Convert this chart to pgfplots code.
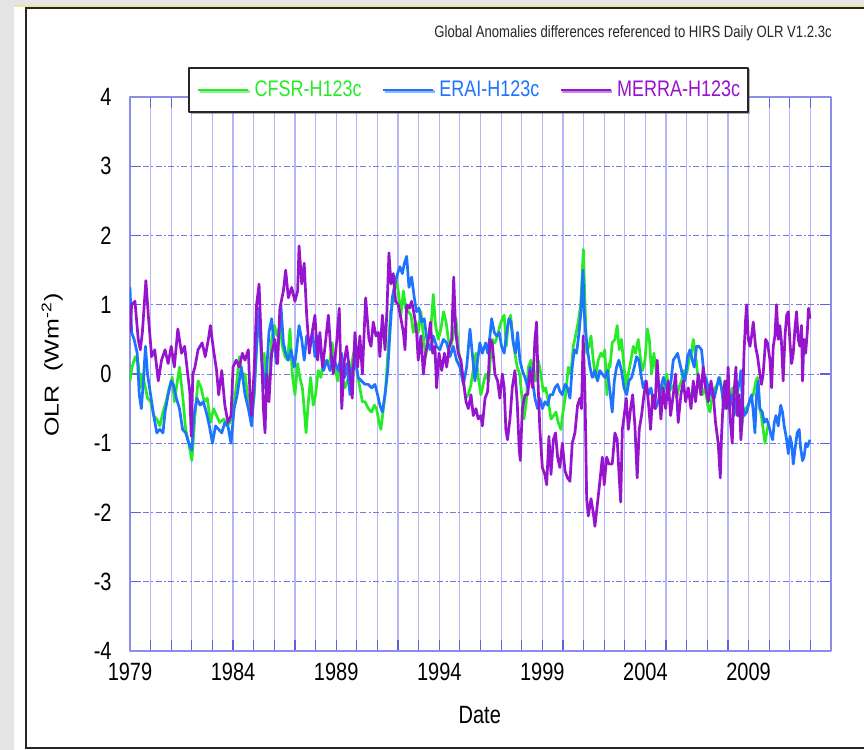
\documentclass[border=0pt]{standalone}
\usepackage{fontspec}
\setmainfont{Liberation Sans}
\usepackage{graphicx}
\usepackage{pgfplots}
\pgfplotsset{compat=1.18}
\usetikzlibrary{shadows}
\definecolor{cfsr}{RGB}{40,235,40}
\definecolor{erai}{RGB}{30,115,255}
\definecolor{merra}{RGB}{150,20,205}
\definecolor{gridc}{RGB}{182,182,246}
\definecolor{axc}{RGB}{140,140,235}
\definecolor{tickc}{RGB}{95,95,225}
\definecolor{ygrid}{RGB}{120,120,230}
\definecolor{bggray}{RGB}{229,229,229}
\definecolor{yel}{RGB}{235,230,160}
\newcommand{\vs}[1]{\scalebox{1}[1.25]{#1}}

\begin{document}
\begin{tikzpicture}
\fill[bggray] (0pt,0pt) rectangle (432pt,375pt);
\fill[white] (7pt,0pt) rectangle (432pt,372pt);
\draw[yel, line width=0.6pt] (7pt,372pt) -- (432pt,372pt);
\draw[black!85, line width=1pt] (432pt,371pt) -- (13pt,371pt) -- (13pt,1pt) -- (432pt,1pt);
\node[anchor=west, inner sep=0pt, font=\fontsize{6.55}{7}\selectfont, black!85] at (217pt,358.5pt) {\vs{Global Anomalies differences referenced to HIRS Daily OLR V1.2.3c}};
\begin{axis}[
  at={(65pt,49.5pt)}, anchor=south west, scale only axis,
  width=350.5pt, height=277pt,
  xmin=1979, xmax=2013, ymin=-4, ymax=4,
  xtick={1979,1984,1989,1994,1999,2004,2009},
  xticklabels={\vs{1979},\vs{1984},\vs{1989},\vs{1994},\vs{1999},\vs{2004},\vs{2009}},
  minor xtick={1980,1981,...,2012},
  ytick={-4,-3,...,4},
  yticklabels={\vs{-4},\vs{-3},\vs{-2},\vs{-1},\vs{0},\vs{1},\vs{2},\vs{3},\vs{4}},
  xmajorgrids, xminorgrids, ymajorgrids,
  x grid style={gridc, line width=0.6pt},
  y grid style={ygrid, line width=0.5pt, dash pattern=on 3pt off 1.2pt on 1pt off 1.2pt},
  major tick length=5.5pt, minor tick length=5.5pt,
  tick style={tickc, line width=0.6pt},
  axis line style={axc, line width=0.8pt},
  tick label style={font=\fontsize{10}{12}\selectfont, black},
  xticklabel style={anchor=center, yshift=-10.5pt},
  yticklabel style={anchor=east, inner sep=0pt, xshift=-9pt},
  label style={font=\fontsize{10}{12}\selectfont, black},
  xlabel={\vs{Date}},
  xlabel style={at={(axis description cs:0.499,-0.1155)}, anchor=center},
  ylabel={\scalebox{1.25}[1]{OLR\ \ (Wm\textsuperscript{-2})}},
  ylabel style={at={(axis description cs:-0.111,0.516)}, anchor=center},
  legend columns=3,
  legend image code/.code={\draw[#1] (0pt,0pt) -- (25pt,0pt);},
  legend style={at={(0.483,1.0126)}, anchor=center, draw=black!85, line width=1pt,
    fill=white, inner xsep=4pt, inner ysep=6.5pt,
    drop shadow={shadow xshift=0.8pt, shadow yshift=-0.8pt, fill=black!60},
    font=\fontsize{9}{10}\selectfont, nodes={inner sep=0pt},
    /tikz/every even column/.append style={column sep=10pt},
    /tikz/every odd column/.append style={column sep=2.5pt}},
  line join=round,
]
\addplot[cfsr, line width=1.35pt] coordinates {
(1979.00,-0.10) (1979.10,0.10) (1979.25,0.25) (1979.40,0.15) (1979.50,-0.20) (1979.60,0.00)
(1979.75,-0.20) (1979.85,-0.35) (1980.00,-0.40) (1980.15,-0.60) (1980.30,-0.65) (1980.45,-0.75)
(1980.60,-0.55) (1980.75,-0.40) (1980.90,-0.20) (1981.05,-0.05) (1981.15,-0.40) (1981.30,-0.10)
(1981.40,0.10) (1981.55,-0.30) (1981.70,-0.80) (1981.85,-1.00) (1982.00,-1.25) (1982.15,-0.60)
(1982.30,-0.10) (1982.45,-0.20) (1982.60,-0.40) (1982.75,-0.35) (1982.90,-0.70) (1983.05,-0.50)
(1983.20,-0.60) (1983.35,-0.70) (1983.55,-0.65) (1983.70,-0.75) (1983.85,-0.70) (1984.00,-0.50)
(1984.15,-0.20) (1984.30,0.25) (1984.45,0.00) (1984.58,0.00) (1984.74,-0.40) (1984.87,-0.70)
(1985.03,-0.30) (1985.14,0.40) (1985.26,0.90) (1985.38,0.20) (1985.51,0.30) (1985.63,-0.30)
(1985.74,-0.15) (1985.87,0.50) (1986.00,0.70) (1986.13,0.55) (1986.27,0.70) (1986.39,0.40)
(1986.52,0.25) (1986.65,0.20) (1986.76,0.65) (1986.87,0.00) (1987.00,-0.30) (1987.13,0.15)
(1987.24,-0.05) (1987.36,-0.20) (1987.45,-0.50) (1987.54,-0.85) (1987.65,-0.40) (1987.76,-0.05)
(1987.89,-0.45) (1988.00,-0.30) (1988.13,0.05) (1988.26,-0.05) (1988.38,0.20) (1988.54,0.15)
(1988.70,0.20) (1988.81,0.45) (1988.94,0.10) (1989.07,-0.10) (1989.18,0.15) (1989.31,-0.10)
(1989.43,-0.20) (1989.59,-0.05) (1989.75,0.15) (1989.88,0.35) (1990.02,0.00) (1990.15,-0.20)
(1990.27,-0.40) (1990.40,-0.40) (1990.56,-0.50) (1990.72,-0.55) (1990.85,-0.45) (1990.96,-0.50)
(1991.08,-0.70) (1991.17,-0.80) (1991.29,-0.50) (1991.40,-0.20) (1991.53,0.40) (1991.64,0.90)
(1991.77,1.05) (1991.88,1.40) (1992.01,1.20) (1992.14,0.85) (1992.26,1.20) (1992.37,0.95)
(1992.50,0.90) (1992.63,0.85) (1992.74,0.60) (1992.87,0.75) (1992.98,0.60) (1993.11,0.90)
(1993.23,0.55) (1993.34,0.25) (1993.47,0.50) (1993.58,0.60) (1993.71,1.15) (1993.82,0.70)
(1993.95,0.50) (1994.08,0.65) (1994.21,0.90) (1994.33,0.75) (1994.44,0.50) (1994.57,0.40)
(1994.70,0.60) (1994.81,0.80) (1994.92,0.40) (1995.05,0.10) (1995.17,-0.10) (1995.28,-0.35)
(1995.41,-0.30) (1995.54,-0.15) (1995.67,0.10) (1995.78,0.30) (1995.89,-0.05) (1996.02,-0.30)
(1996.13,-0.15) (1996.25,0.00) (1996.40,-0.10) (1996.50,0.30) (1996.57,0.50) (1996.70,0.45)
(1996.83,0.55) (1996.94,0.70) (1997.06,0.80) (1997.15,0.85) (1997.25,0.40) (1997.35,0.75)
(1997.46,0.85) (1997.57,0.50) (1997.67,0.30) (1997.78,0.10) (1997.90,0.00) (1998.00,-0.30)
(1998.11,-0.65) (1998.22,-0.40) (1998.32,0.10) (1998.45,0.20) (1998.56,0.00) (1998.67,-0.10)
(1998.80,0.20) (1998.93,0.00) (1999.04,-0.25) (1999.16,-0.20) (1999.29,-0.40) (1999.42,-0.65)
(1999.55,-0.60) (1999.66,-0.55) (1999.77,-0.70) (1999.90,-0.80) (2000.00,-0.55) (2000.13,-0.30)
(2000.26,0.10) (2000.39,0.00) (2000.50,0.40) (2000.61,0.55) (2000.74,0.75) (2000.86,1.00)
(2000.94,1.50) (2000.99,1.80) (2001.07,1.00) (2001.15,0.30) (2001.26,0.40) (2001.36,0.55)
(2001.47,0.20) (2001.58,-0.05) (2001.71,0.20) (2001.84,0.30) (2001.95,0.25) (2002.03,0.35)
(2002.13,-0.30) (2002.23,0.15) (2002.28,0.10) (2002.39,0.45) (2002.52,0.50) (2002.63,0.70)
(2002.73,0.35) (2002.84,0.50) (2002.96,0.10) (2003.07,-0.20) (2003.17,0.00) (2003.30,0.20)
(2003.41,0.40) (2003.52,0.30) (2003.65,0.50) (2003.77,0.20) (2003.86,0.05) (2003.98,0.20)
(2004.09,0.65) (2004.19,0.50) (2004.30,0.00) (2004.41,0.30) (2004.54,0.00) (2004.65,-0.15)
(2004.78,-0.40) (2004.91,-0.10) (2005.03,0.00) (2005.14,-0.25) (2005.27,-0.20) (2005.40,-0.15)
(2005.51,-0.35) (2005.62,-0.20) (2005.75,-0.10) (2005.88,0.05) (2006.00,0.00) (2006.11,0.20)
(2006.24,0.30) (2006.32,0.50) (2006.40,0.35) (2006.51,0.05) (2006.64,-0.20) (2006.76,-0.30)
(2006.89,-0.20) (2007.02,-0.45) (2007.13,-0.55) (2007.24,-0.30) (2007.37,-0.20) (2007.50,-0.15)
(2007.61,-0.05) (2007.69,-0.20) (2007.77,-0.35) (2007.85,-0.25) (2007.93,-0.50) (2008.02,-0.40)
(2008.13,-0.30) (2008.23,-0.20) (2008.34,-0.50) (2008.45,-0.60) (2008.55,-0.50) (2008.66,-0.80)
(2008.74,-0.60) (2008.86,-0.50) (2008.99,-0.45) (2009.10,-0.35) (2009.23,-0.30) (2009.36,-0.10)
(2009.44,-0.05) (2009.52,-0.45) (2009.62,-0.60) (2009.71,-0.80) (2009.80,-1.00) (2009.88,-0.85)
(2009.97,-0.70)
};
\addlegendentry{\vs{\textcolor{cfsr}{CFSR-H123c}}}
\addplot[erai, line width=1.35pt] coordinates {
(1979.00,1.25) (1979.08,0.60) (1979.20,0.50) (1979.35,0.30) (1979.45,-0.30) (1979.55,-0.50)
(1979.65,-0.10) (1979.75,0.40) (1979.85,0.00) (1980.00,-0.30) (1980.15,-0.60) (1980.30,-0.85)
(1980.45,-0.80) (1980.60,-0.85) (1980.70,-0.55) (1980.85,-0.30) (1981.00,-0.10) (1981.10,-0.15)
(1981.25,-0.35) (1981.40,-0.50) (1981.55,-0.80) (1981.70,-0.85) (1981.85,-1.00) (1982.00,-1.10)
(1982.10,-0.60) (1982.25,-0.35) (1982.40,-0.45) (1982.55,-0.40) (1982.70,-0.55) (1982.85,-0.75)
(1983.00,-1.00) (1983.15,-0.75) (1983.30,-0.80) (1983.45,-0.85) (1983.60,-0.70) (1983.75,-0.75)
(1983.90,-1.00) (1984.05,-0.50) (1984.20,-0.30) (1984.40,0.10) (1984.58,-0.30) (1984.74,-0.50)
(1984.90,-0.75) (1985.03,-0.20) (1985.14,0.40) (1985.26,0.95) (1985.38,0.25) (1985.51,-0.20)
(1985.63,0.05) (1985.74,0.60) (1985.87,0.80) (1986.00,0.40) (1986.11,0.15) (1986.23,0.60)
(1986.32,1.00) (1986.44,0.45) (1986.55,0.30) (1986.68,0.20) (1986.81,0.35) (1986.97,0.10)
(1987.08,0.35) (1987.20,0.70) (1987.33,0.50) (1987.45,0.20) (1987.57,0.55) (1987.73,0.40)
(1987.86,0.60) (1987.97,0.25) (1988.10,0.55) (1988.26,0.30) (1988.39,0.05) (1988.54,0.20)
(1988.70,0.05) (1988.83,0.25) (1988.97,0.15) (1989.10,0.05) (1989.26,0.30) (1989.40,-0.05)
(1989.52,0.15) (1989.67,-0.30) (1989.80,0.10) (1989.94,0.20) (1990.07,-0.05) (1990.23,-0.10)
(1990.40,-0.15) (1990.56,-0.15) (1990.72,-0.20) (1990.88,-0.15) (1991.01,-0.30) (1991.12,-0.45)
(1991.24,-0.55) (1991.37,-0.30) (1991.50,0.05) (1991.61,0.60) (1991.72,1.10) (1991.85,1.30)
(1991.98,1.45) (1992.09,1.55) (1992.21,1.45) (1992.31,1.60) (1992.42,1.70) (1992.53,1.25)
(1992.66,1.40) (1992.79,1.10) (1992.90,0.90) (1993.02,0.95) (1993.14,0.75) (1993.27,0.80)
(1993.40,0.50) (1993.55,0.35) (1993.71,0.55) (1993.87,0.40) (1994.03,0.35) (1994.20,0.50)
(1994.36,0.45) (1994.52,0.25) (1994.68,0.40) (1994.84,0.20) (1995.00,0.10) (1995.17,-0.15)
(1995.33,0.10) (1995.49,0.65) (1995.60,0.30) (1995.73,-0.10) (1995.86,0.20) (1995.97,0.45)
(1996.09,0.30) (1996.25,0.45) (1996.35,0.30) (1996.46,0.55) (1996.54,0.80) (1996.67,0.60)
(1996.78,0.55) (1996.91,0.60) (1997.02,0.40) (1997.15,0.30) (1997.27,0.60) (1997.38,0.80)
(1997.48,0.75) (1997.59,0.45) (1997.70,0.30) (1997.80,0.60) (1997.91,0.20) (1998.03,0.05)
(1998.16,-0.05) (1998.29,-0.20) (1998.40,0.10) (1998.51,-0.05) (1998.64,-0.35) (1998.77,-0.50)
(1998.88,-0.35) (1999.00,-0.50) (1999.13,-0.40) (1999.26,-0.45) (1999.37,-0.30) (1999.50,-0.30)
(1999.61,-0.20) (1999.74,-0.15) (1999.85,-0.25) (1999.97,-0.30) (2000.10,-0.15) (2000.22,-0.20)
(2000.34,-0.35) (2000.45,0.10) (2000.55,0.35) (2000.66,0.30) (2000.78,0.60) (2000.87,0.90)
(2000.97,1.50) (2001.03,0.90) (2001.10,0.60) (2001.19,0.35) (2001.31,0.10) (2001.42,-0.05)
(2001.55,0.05) (2001.68,-0.10) (2001.79,0.05) (2001.91,0.00) (2002.03,-0.05) (2002.16,0.05)
(2002.26,-0.20) (2002.39,-0.55) (2002.49,-0.10) (2002.60,0.10) (2002.71,0.20) (2002.84,0.05)
(2002.96,-0.20) (2003.09,-0.30) (2003.20,-0.10) (2003.33,-0.05) (2003.46,0.10) (2003.57,0.25)
(2003.68,0.20) (2003.78,0.00) (2003.89,-0.20) (2004.01,-0.10) (2004.14,-0.30) (2004.27,-0.20)
(2004.38,-0.40) (2004.49,-0.50) (2004.62,-0.40) (2004.75,-0.20) (2004.87,-0.05) (2004.98,-0.15)
(2005.11,-0.30) (2005.24,-0.10) (2005.35,0.20) (2005.46,0.25) (2005.56,0.30) (2005.67,0.15)
(2005.79,0.00) (2005.92,-0.10) (2006.04,0.25) (2006.16,0.35) (2006.27,0.20) (2006.37,0.10)
(2006.48,0.40) (2006.59,0.40) (2006.72,0.35) (2006.84,0.00) (2006.97,-0.10) (2007.08,-0.25)
(2007.21,-0.30) (2007.34,-0.35) (2007.45,-0.20) (2007.56,-0.05) (2007.69,-0.20) (2007.77,-0.40)
(2007.85,-0.50) (2007.93,-0.25) (2008.05,-0.50) (2008.18,-0.30) (2008.29,-0.60) (2008.42,-0.35)
(2008.50,-0.20) (2008.58,-0.10) (2008.63,0.05) (2008.70,-0.40) (2008.79,-0.60) (2008.91,-0.55)
(2009.04,-0.40) (2009.15,-0.30) (2009.23,-0.55) (2009.31,-0.85) (2009.39,-0.30) (2009.47,-0.10)
(2009.55,-0.50) (2009.67,-0.55) (2009.76,-0.70) (2009.88,-0.65) (2009.99,-0.75) (2010.07,-0.85)
(2010.17,-0.95) (2010.25,-0.70) (2010.33,-0.60) (2010.44,-0.75) (2010.56,-0.45) (2010.65,-0.55)
(2010.73,-0.75) (2010.85,-0.95) (2010.93,-1.15) (2011.01,-0.90) (2011.09,-1.00) (2011.17,-1.30)
(2011.25,-1.10) (2011.36,-0.85) (2011.46,-0.80) (2011.52,-1.05) (2011.62,-1.25) (2011.69,-1.20)
(2011.78,-1.00) (2011.86,-1.05) (2011.98,-0.95)
};
\addlegendentry{\vs{\textcolor{erai}{ERAI-H123c}}}
\addplot[merra, line width=1.35pt] coordinates {
(1979.00,0.60) (1979.08,1.00) (1979.24,1.05) (1979.40,0.50) (1979.50,0.35) (1979.60,0.60)
(1979.77,1.35) (1979.90,0.80) (1980.05,0.25) (1980.20,0.35) (1980.37,-0.10) (1980.53,0.20)
(1980.70,0.35) (1980.85,0.15) (1981.00,0.40) (1981.15,0.10) (1981.32,0.65) (1981.50,0.30)
(1981.65,0.40) (1981.80,0.00) (1981.90,-0.25) (1981.97,-0.90) (1982.05,0.00) (1982.15,0.10)
(1982.30,0.35) (1982.50,0.45) (1982.65,0.25) (1982.80,0.50) (1982.90,0.70) (1983.05,0.35)
(1983.20,0.05) (1983.30,-0.30) (1983.45,0.05) (1983.60,-0.45) (1983.75,-0.70) (1983.90,-0.60)
(1984.00,0.10) (1984.15,0.20) (1984.30,0.10) (1984.45,0.30) (1984.58,0.20) (1984.74,0.35)
(1984.82,-0.30) (1984.90,-0.60) (1985.03,0.10) (1985.14,1.00) (1985.26,1.30) (1985.35,0.60)
(1985.47,-0.50) (1985.55,-0.85) (1985.63,0.00) (1985.74,-0.40) (1985.87,0.30) (1986.03,0.50)
(1986.16,0.15) (1986.27,0.95) (1986.44,1.20) (1986.55,1.50) (1986.68,1.10) (1986.84,1.25)
(1987.00,1.05) (1987.13,1.20) (1987.20,1.85) (1987.33,1.30) (1987.45,1.60) (1987.57,0.85)
(1987.70,0.30) (1987.81,0.55) (1987.97,0.85) (1988.10,0.20) (1988.21,0.60) (1988.34,0.10)
(1988.46,0.40) (1988.62,0.85) (1988.75,0.30) (1988.86,0.00) (1989.02,0.45) (1989.15,0.95)
(1989.27,-0.50) (1989.40,0.20) (1989.51,0.40) (1989.67,0.00) (1989.78,-0.35) (1989.91,0.60)
(1990.04,0.10) (1990.15,0.55) (1990.27,0.00) (1990.43,1.10) (1990.59,0.50) (1990.69,0.40)
(1990.80,0.75) (1990.93,0.55) (1991.04,0.60) (1991.12,0.25) (1991.24,0.85) (1991.37,0.35)
(1991.46,0.90) (1991.56,1.75) (1991.66,1.30) (1991.77,1.45) (1991.88,1.05) (1992.01,1.00)
(1992.14,0.80) (1992.26,0.60) (1992.34,0.35) (1992.42,1.00) (1992.55,0.95) (1992.66,1.05)
(1992.79,0.85) (1992.90,0.60) (1992.98,0.20) (1993.11,0.55) (1993.23,0.00) (1993.34,0.30)
(1993.47,0.50) (1993.57,0.75) (1993.68,0.30) (1993.79,0.40) (1993.87,-0.20) (1993.99,0.30)
(1994.12,0.05) (1994.25,0.30) (1994.36,0.10) (1994.49,0.40) (1994.60,0.50) (1994.70,1.40)
(1994.80,0.60) (1994.92,0.30) (1995.05,0.20) (1995.17,-0.10) (1995.30,-0.40) (1995.41,-0.50)
(1995.54,-0.30) (1995.65,-0.60) (1995.78,-0.50) (1995.89,-0.65) (1996.02,-0.60) (1996.09,-0.75)
(1996.22,-0.35) (1996.35,-0.25) (1996.46,0.50) (1996.57,0.45) (1996.70,0.00) (1996.83,-0.10)
(1996.94,-0.35) (1997.06,0.00) (1997.15,-0.20) (1997.23,-0.80) (1997.31,-0.95) (1997.43,-0.65)
(1997.54,-0.20) (1997.67,0.05) (1997.78,-0.40) (1997.88,-1.10) (1997.93,-1.25) (1998.03,-0.50)
(1998.16,-0.30) (1998.29,-0.30) (1998.40,0.05) (1998.53,-0.20) (1998.64,0.50) (1998.72,0.75)
(1998.80,-0.20) (1998.88,-0.80) (1999.00,-1.35) (1999.12,-1.45) (1999.21,-1.60) (1999.32,-0.90)
(1999.42,-1.45) (1999.53,-0.95) (1999.64,-0.85) (1999.74,-1.20) (1999.85,-1.35) (1999.97,-1.00)
(2000.10,-1.40) (2000.22,-1.50) (2000.34,-1.55) (2000.45,-1.00) (2000.58,-0.85) (2000.71,-0.45)
(2000.82,-0.35) (2000.90,-0.50) (2000.98,0.55) (2001.07,-0.30) (2001.15,-1.80) (2001.23,-2.05)
(2001.36,-1.80) (2001.47,-2.00) (2001.55,-2.20) (2001.68,-1.85) (2001.79,-1.55) (2001.91,-1.20)
(2002.00,-1.60) (2002.12,-1.20) (2002.23,-1.30) (2002.39,-1.30) (2002.52,-0.85) (2002.63,-0.95)
(2002.73,-1.50) (2002.80,-1.85) (2002.88,-0.80) (2002.97,-0.60) (2003.07,-0.35) (2003.17,-0.80)
(2003.28,-0.50) (2003.38,-0.30) (2003.49,-0.75) (2003.60,-1.50) (2003.70,-0.80) (2003.81,-0.60)
(2003.93,-0.30) (2004.04,-0.10) (2004.14,-0.40) (2004.25,-0.80) (2004.35,-0.30) (2004.46,-0.50)
(2004.57,0.20) (2004.65,-0.20) (2004.75,-0.65) (2004.86,-0.20) (2004.98,-0.50) (2005.11,-0.10)
(2005.22,-0.60) (2005.35,-0.30) (2005.46,0.00) (2005.59,-0.70) (2005.72,-0.30) (2005.84,-0.10)
(2005.95,-0.40) (2006.08,-0.20) (2006.21,-0.50) (2006.32,-0.10) (2006.43,-0.40) (2006.56,0.00)
(2006.69,-0.30) (2006.80,0.10) (2006.92,-0.20) (2007.05,-0.40) (2007.18,-0.10) (2007.29,-0.30)
(2007.40,-0.70) (2007.53,-1.00) (2007.63,-1.50) (2007.69,-0.90) (2007.77,-0.40) (2007.85,-0.10)
(2007.93,-0.50) (2008.01,0.10) (2008.10,-0.60) (2008.21,-1.00) (2008.29,-0.30) (2008.39,0.10)
(2008.47,-0.60) (2008.55,-0.30) (2008.63,-0.95) (2008.70,-0.60) (2008.78,0.30) (2008.86,0.80)
(2008.91,1.00) (2008.99,0.50) (2009.07,0.40) (2009.15,0.55) (2009.23,0.75) (2009.34,0.40)
(2009.44,0.25) (2009.55,0.00) (2009.63,-0.15) (2009.71,0.00) (2009.83,0.50) (2009.92,0.45)
(2010.04,0.20) (2010.12,-0.20) (2010.20,0.40) (2010.28,0.55) (2010.36,1.00) (2010.44,0.50)
(2010.52,0.70) (2010.60,0.45) (2010.68,-0.10) (2010.77,0.55) (2010.85,0.85) (2010.93,0.90)
(2011.01,0.45) (2011.09,0.15) (2011.17,0.30) (2011.25,0.65) (2011.33,0.90) (2011.41,0.50)
(2011.49,0.40) (2011.57,0.70) (2011.62,-0.10) (2011.69,0.50) (2011.77,0.30) (2011.85,0.60)
(2011.91,0.95) (2011.98,0.80)
};
\addlegendentry{\vs{\textcolor{merra}{MERRA-H123c}}}
\end{axis}
\pgfresetboundingbox
\useasboundingbox (0pt,0pt) rectangle (432pt,375pt);
\end{tikzpicture}
\end{document}
